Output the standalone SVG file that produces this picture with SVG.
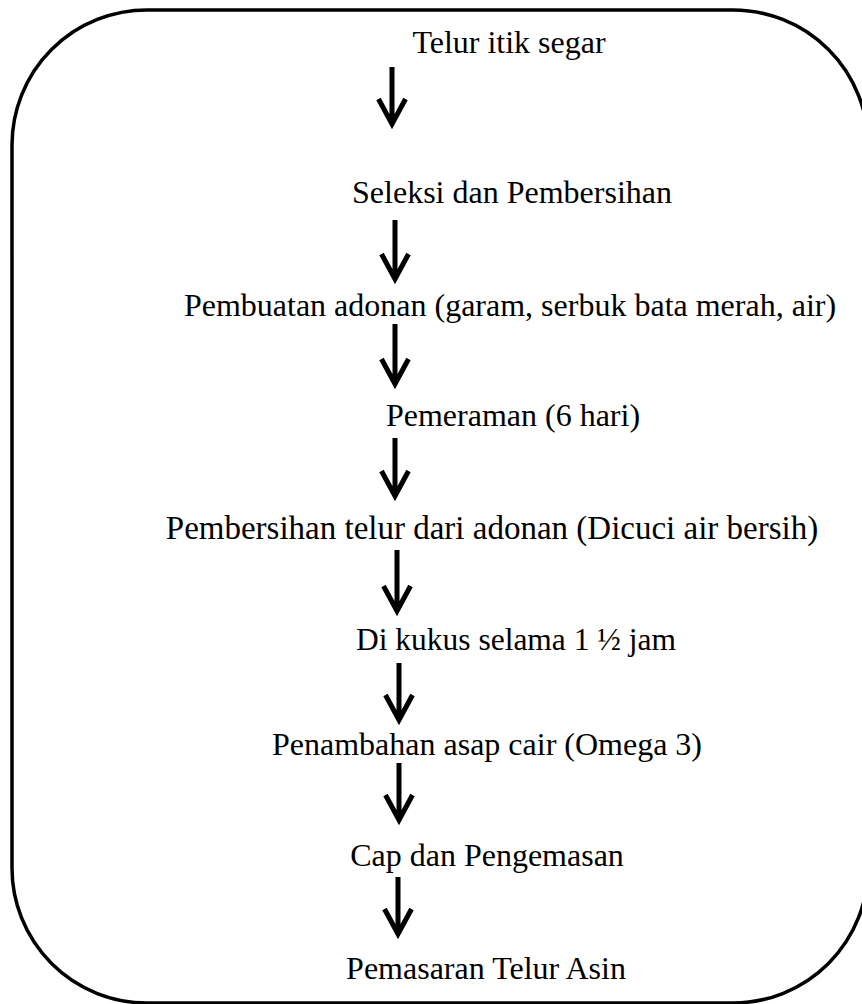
<svg xmlns="http://www.w3.org/2000/svg" width="862" height="1004" viewBox="0 0 862 1004">
<style>
.t{font-family:"Liberation Serif","Times New Roman",serif;font-size:32px;fill:#000;text-anchor:middle}
.a{fill:none;stroke:#000;stroke-width:5;stroke-linejoin:miter;stroke-linecap:butt}
</style>
<rect x="12" y="10" width="856" height="993" rx="135" ry="135" fill="#fff" stroke="#000" stroke-width="3.5"/>
<g id="n1"><text class="t" x="509" y="53">Telur itik segar</text></g>
<g id="n2"><text class="t" x="512" y="203">Seleksi dan Pembersihan</text></g>
<g id="n3"><text class="t" x="510" y="316">Pembuatan adonan (garam, serbuk bata merah, air)</text></g>
<g id="n4"><text class="t" x="513" y="426">Pemeraman (6 hari)</text></g>
<g id="n5"><text class="t" x="492" y="539" style="font-size:33px">Pembersihan telur dari adonan (Dicuci air bersih)</text></g>
<g id="n6"><text class="t" x="516" y="650" style="font-size:31.5px">Di kukus selama 1 ½ jam</text></g>
<g id="n7"><text class="t" x="487" y="755">Penambahan asap cair (Omega 3)</text></g>
<g id="n8"><text class="t" x="487" y="866">Cap dan Pengemasan</text></g>
<g id="n9"><text class="t" x="486" y="979">Pemasaran Telur Asin</text></g>
<g id="connectors">
<path class="a" d="M392 67V124M378.5 99L392 124L405.5 99"/>
<path class="a" d="M395 220V279M381.5 254L395 279L408.5 254"/>
<path class="a" d="M395 324V384M381.5 359L395 384L408.5 359"/>
<path class="a" d="M395 438V496M381.5 471L395 496L408.5 471"/>
<path class="a" d="M397 550V611M383.5 586L397 611L410.5 586"/>
<path class="a" d="M399 663V720M385.5 695L399 720L412.5 695"/>
<path class="a" d="M399 763V820M385.5 795L399 820L412.5 795"/>
<path class="a" d="M398 877V934M384.5 909L398 934L411.5 909"/>
</g>
</svg>
